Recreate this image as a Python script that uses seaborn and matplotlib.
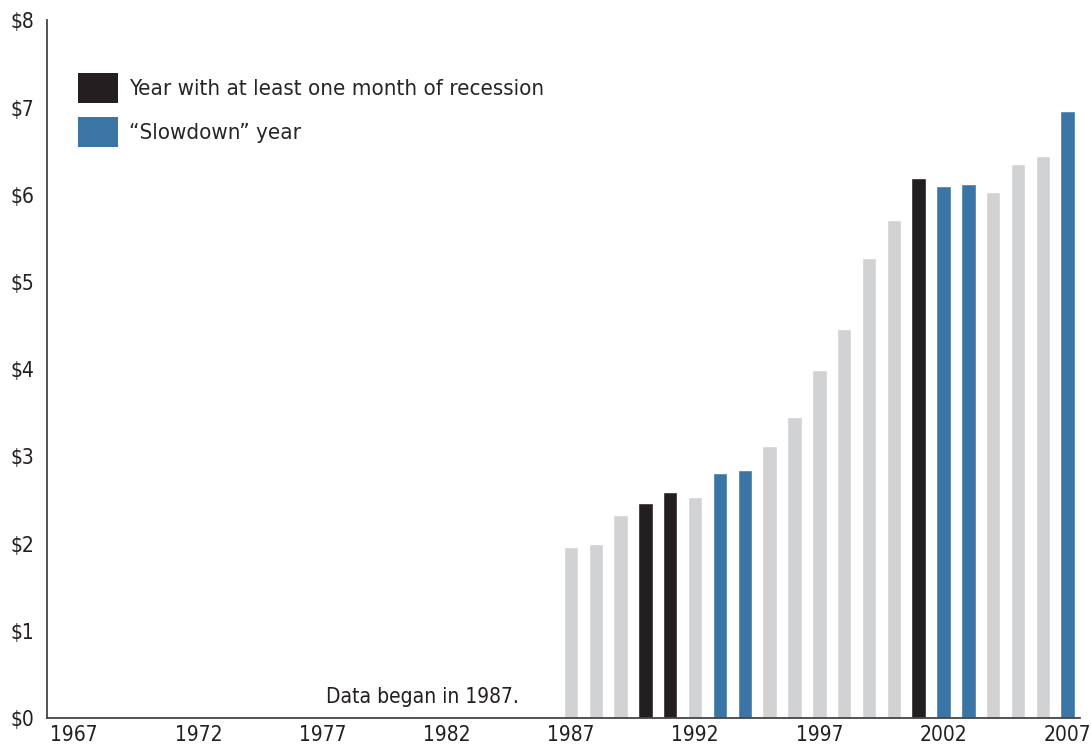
import matplotlib
matplotlib.use('Agg')
import matplotlib.pyplot as plt
from matplotlib import font_manager
import seaborn as sns
import pandas as pd
from matplotlib.patches import Patch

# Datos
years = list(range(1987, 2008))
values = [1.96, 1.99, 2.33, 2.46, 2.59, 2.53, 2.81, 2.84, 3.12, 3.45, 3.99,
          4.46, 5.27, 5.71, 6.19, 6.10, 6.12, 6.03, 6.35, 6.45, 6.96]
recession_years = [1990, 1991, 2001]
slowdown_years = [1993, 1994, 2002, 2003, 2007]
tick_years = [1967, 1972, 1977, 1982, 1987, 1992, 1997, 2002, 2007]
y_ticks = [0, 1, 2, 3, 4, 5, 6, 7, 8]

kind = []
for y in years:
    if y in recession_years:
        kind.append('recession')
    elif y in slowdown_years:
        kind.append('slowdown')
    else:
        kind.append('other')

df = pd.DataFrame({'year': years, 'value': values, 'kind': kind})

colors = {'other': '#d1d2d4', 'recession': '#231f20', 'slowdown': '#3a75a5'}

sns.set_style('white')

# buscar una fuente estrecha si hay alguna instalada
narrow = None
for f in font_manager.fontManager.ttflist:
    if f.stretch in ('condensed', 'semi-condensed') or 'Narrow' in f.name or 'Condensed' in f.name:
        if f.style == 'normal' and f.weight in (400, 'normal', 'regular'):
            narrow = f
            break
if narrow is not None:
    plt.rcParams['font.family'] = [narrow.name, 'DejaVu Sans']
    plt.rcParams['font.stretch'] = narrow.stretch
else:
    plt.rcParams['font.family'] = ['DejaVu Sans']
    plt.rcParams['font.stretch'] = 'condensed'

fig, ax = plt.subplots(figsize=(10.91, 7.55), dpi=100)
sns.barplot(data=df, x='year', y='value', hue='kind', palette=colors,
            native_scale=True, dodge=False, width=0.58, saturation=1,
            legend=False, ax=ax)

ax.set_xlim(1965.9, 2007.5)
ax.set_ylim(0, 8)
ax.set_xticks(tick_years)
ax.set_xticklabels([str(t) for t in tick_years], fontsize=15, color='#231f20')
ax.set_yticks(y_ticks)
ax.set_yticklabels(['$' + str(v) for v in y_ticks], fontsize=15, color='#231f20')
ax.tick_params(axis='x', length=0, pad=5)
ax.tick_params(axis='y', length=5, width=1.2, color='#444444', pad=4)
ax.set_xlabel('')
ax.set_ylabel('')

for s in ['top', 'right']:
    ax.spines[s].set_visible(False)
for s in ['left', 'bottom']:
    ax.spines[s].set_color('#444444')
    ax.spines[s].set_linewidth(1.3)

handles = [Patch(facecolor=colors['recession'], edgecolor='none'),
           Patch(facecolor=colors['slowdown'], edgecolor='none')]
labels = ['Year with at least one month of recession', '\u201cSlowdown\u201d year']
ax.legend(handles, labels, loc='upper left', bbox_to_anchor=(0.030, 0.925),
          frameon=False, fontsize=16, handlelength=1.8, handleheight=1.75,
          handletextpad=0.5, labelspacing=0.6, borderaxespad=0, borderpad=0)

ax.text(1984.9, 0.24, 'Data began in 1987.', ha='right', va='center',
        fontsize=15, color='#231f20')

plt.subplots_adjust(left=0.043, right=0.99, top=0.973, bottom=0.049)
plt.savefig('out.png', dpi=100)
plt.close()
